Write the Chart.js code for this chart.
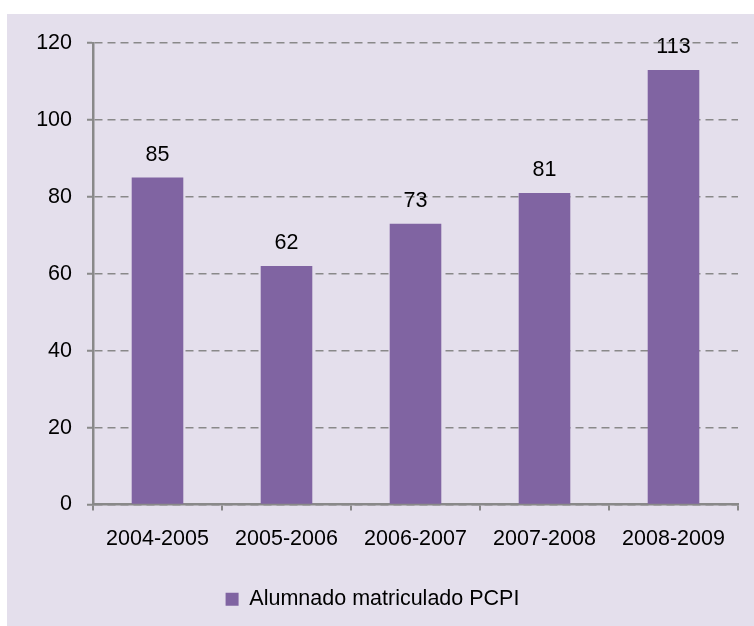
<!DOCTYPE html>
<html>
<head>
<meta charset="utf-8">
<script src="https://cdn.jsdelivr.net/npm/chart.js@4"></script>
<style>
  html, body { margin: 0; padding: 0; background: #ffffff; }
  #wrap { position: absolute; left: 7px; top: 14px; width: 747px; height: 612px; background: #E4DFEC; }
</style>
</head>
<body>
<div id="wrap"><canvas id="chart" width="747" height="612"></canvas></div>
<script>
var categories = ['2004-2005', '2005-2006', '2006-2007', '2007-2008', '2008-2009'];
var seriesName = 'Alumnado matriculado PCPI';
var values = [85, 62, 73, 81, 113];
var yTicks = [0, 20, 40, 60, 80, 100, 120];

var FONT = '"Liberation Sans", Arial, sans-serif';
var FSIZE = 21.5;
var AXIS = '#898989';

// draws the value above every bar
var valueLabels = {
  id: 'valueLabels',
  afterDatasetsDraw(chart) {
    var ctx = chart.ctx;
    var meta = chart.getDatasetMeta(0);
    ctx.save();
    ctx.font = FSIZE + 'px ' + FONT;
    ctx.fillStyle = '#000';
    ctx.textAlign = 'center';
    ctx.textBaseline = 'middle';
    meta.data.forEach(function (bar, i) {
      ctx.fillText(String(chart.data.datasets[0].data[i]), bar.x, bar.y - 23);
    });
    ctx.restore();
  }
};

new Chart(document.getElementById('chart'), {
  type: 'bar',
  data: {
    labels: categories,
    datasets: [{
      label: seriesName,
      data: values,
      backgroundColor: '#8064A2',
      borderWidth: 0,
      barPercentage: 0.8,
      categoryPercentage: 0.5
    }]
  },
  options: {
    responsive: false,
    animation: false,
    layout: { padding: { top: 29, right: 16, left: 0, bottom: 6 } },
    plugins: {
      legend: {
        position: 'bottom',
        labels: {
          font: { family: FONT, size: FSIZE },
          color: '#000',
          boxWidth: 13,
          boxHeight: 13,
          padding: 10
        }
      },
      tooltip: { enabled: false }
    },
    scales: {
      x: {
        afterFit: function (scale) { scale.height = 74; },
        grid: { drawOnChartArea: false, drawTicks: true, tickLength: 6, color: AXIS, lineWidth: 2 },
        border: { display: true, color: AXIS, width: 2.5 },
        ticks: { font: { family: FONT, size: FSIZE }, color: '#000', padding: 16 }
      },
      y: {
        min: 0,
        max: 120,
        afterFit: function (scale) { scale.width = 86; },
        afterBuildTicks: function (scale) { scale.ticks = yTicks.map(function (v) { return { value: v }; }); },
        grid: { color: AXIS, lineWidth: 1.5, tickLength: 6, tickBorderDash: [], tickWidth: 2 },
        border: { display: true, color: AXIS, width: 2.5, dash: [8, 5] },
        ticks: { font: { family: FONT, size: FSIZE }, color: '#000', padding: 15 }
      }
    }
  },
  plugins: [valueLabels]
});
</script>
</body>
</html>
